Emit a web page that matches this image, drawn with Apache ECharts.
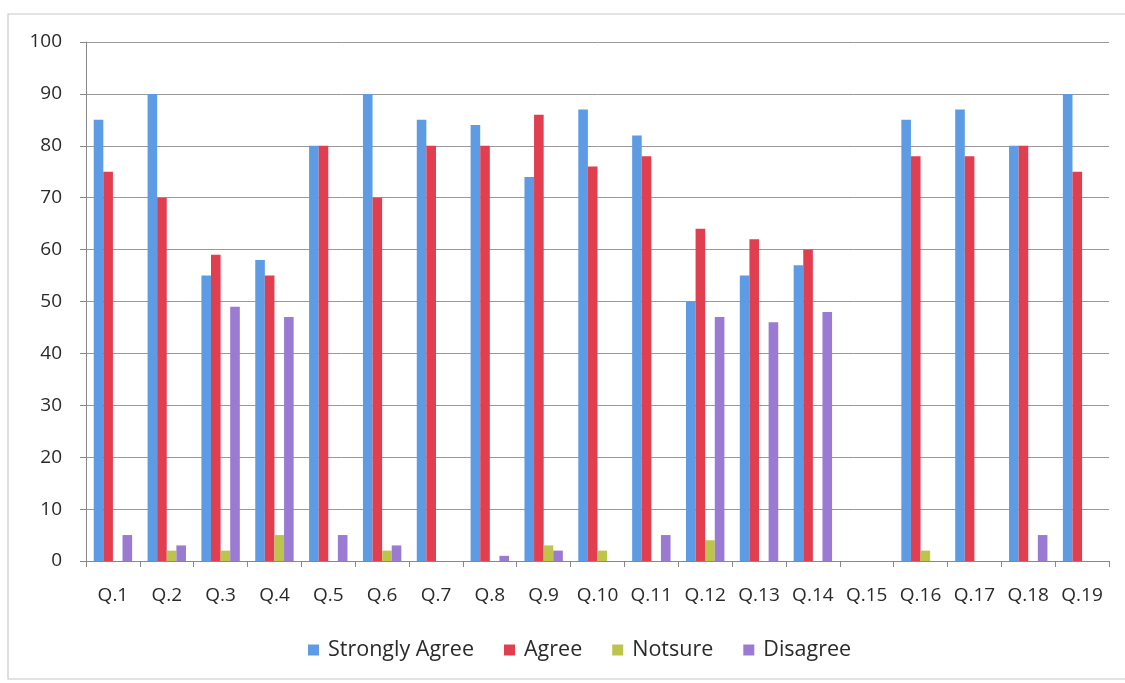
<!DOCTYPE html>
<html>
<head>
<meta charset="utf-8">
<title>Survey responses</title>
<script src="https://cdn.jsdelivr.net/npm/echarts@6/dist/echarts.min.js"></script>
<style>
    html, body { margin: 0; padding: 0; background: #fff; }
    #chart { width: 1125px; height: 683px; }
</style>
</head>
<body>
<div id="chart"></div>
<script>
const categories = ['Q.1', 'Q.2', 'Q.3', 'Q.4', 'Q.5', 'Q.6', 'Q.7', 'Q.8', 'Q.9', 'Q.10',
    'Q.11', 'Q.12', 'Q.13', 'Q.14', 'Q.15', 'Q.16', 'Q.17', 'Q.18', 'Q.19'];
const stronglyAgree = [85, 90, 55, 58, 80, 90, 85, 84, 74, 87, 82, 50, 55, 57, 0, 85, 87, 80, 90];
const agree = [75, 70, 59, 55, 80, 70, 80, 80, 86, 76, 78, 64, 62, 60, 0, 78, 78, 80, 75];
const notSure = [0, 2, 2, 5, 0, 2, 0, 0, 3, 2, 0, 4, 0, 0, 0, 2, 0, 0, 0];
const disagree = [5, 3, 49, 47, 5, 3, 0, 1, 2, 0, 5, 47, 46, 48, 0, 0, 0, 5, 0];

const font = '"Open Sans", "Noto Sans", sans-serif';

function bar(name, data, color) {
    return {
        name: name,
        type: 'bar',
        data: data,
        barWidth: 9.6,
        barGap: '0%',
        itemStyle: {color: color}
    };
}

let chart = echarts.init(document.getElementById('chart'));
const option = {
    animation: false,
    backgroundColor: '#fff',
    textStyle: {fontFamily: font},
    graphic: [{
        type: 'rect',
        shape: {x: 8, y: 14, width: 1130, height: 665},
        style: {fill: 'none', stroke: '#c8c8c8', lineWidth: 1.2},
        silent: true
    }],
    grid: {left: 86, right: 16, top: 42, bottom: 122, containLabel: false},
    legend: {
        data: ['Strongly Agree', 'Agree', 'Notsure', 'Disagree'],
        top: 634,
        left: 303,
        itemWidth: 11,
        itemHeight: 11,
        itemGap: 30,
        icon: 'rect',
        textStyle: {fontSize: 21.5, color: '#2a2a2a', fontFamily: font, padding: [0, 0, 0, 4]}
    },
    xAxis: {
        type: 'category',
        data: categories,
        axisLine: {lineStyle: {color: '#888', width: 1}},
        axisTick: {show: true, length: 6, lineStyle: {color: '#888'}},
        axisLabel: {fontSize: 19, color: '#2a2a2a', margin: 25, fontFamily: font, interval: 0}
    },
    yAxis: {
        type: 'value',
        min: 0,
        max: 100,
        interval: 10,
        axisLine: {show: true, lineStyle: {color: '#888', width: 1}},
        axisTick: {show: true, length: 6, lineStyle: {color: '#888'}},
        axisLabel: {fontSize: 19, color: '#2a2a2a', margin: 24, fontFamily: font},
        splitLine: {lineStyle: {color: '#999', width: 1}}
    },
    series: [
        bar('Strongly Agree', stronglyAgree, '#5d9ce4'),
        bar('Agree', agree, '#e13e50'),
        bar('Notsure', notSure, '#bcc44c'),
        bar('Disagree', disagree, '#9a7ad2')
    ]
};
chart.setOption(option);
window.addEventListener('resize', function () {
    chart.resize();
});
</script>
</body>
</html>
